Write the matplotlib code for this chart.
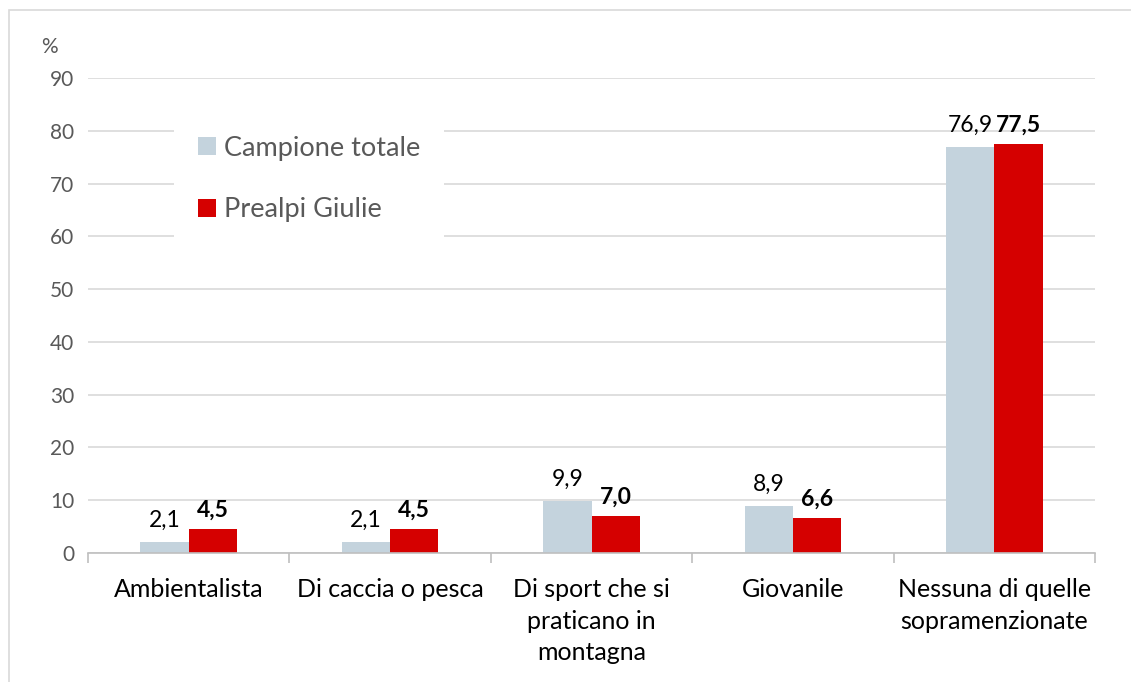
import matplotlib.pyplot as plt
import numpy as np
from matplotlib.patches import Rectangle

plt.rcParams['font.family'] = ['Lato', 'DejaVu Sans']

categories = ['Ambientalista', 'Di caccia o pesca', 'Di sport che si\npraticano in\nmontagna',
              'Giovanile', 'Nessuna di quelle\nsopramenzionate']
campione = [2.1, 2.1, 9.9, 8.9, 76.9]
prealpi = [4.5, 4.5, 7.0, 6.6, 77.5]
series_names = ['Campione totale', 'Prealpi Giulie']

c_grey = '#C4D3DD'
c_red = '#D50000'
txt = '#595959'

fig = plt.figure(figsize=(11.31, 6.82), dpi=100)
ax = fig.add_axes([88 / 1131, 1 - 553 / 682, (1095 - 88) / 1131, (553 - 78) / 682])

# outer chart border
fig.patches.append(Rectangle((9 / 1131, -0.01), 1.1, 1 - 10 / 682 + 0.01, transform=fig.transFigure,
                             fill=False, edgecolor='#D9D9D9', linewidth=1.2))

x = np.arange(len(categories))
width = 0.24
b1 = ax.bar(x - width / 2, campione, width, color=c_grey, label=series_names[0], zorder=2)
b2 = ax.bar(x + width / 2, prealpi, width, color=c_red, label=series_names[1], zorder=2)

for xi, v in zip(x, campione):
    ax.annotate(f'{v:.1f}'.replace('.', ','), (xi - width / 2, v), xytext=(0, 8),
                textcoords='offset points', ha='center', va='bottom', fontsize=16.5, color='black')
for xi, v in zip(x, prealpi):
    ax.annotate(f'{v:.1f}'.replace('.', ','), (xi + width / 2, v), xytext=(0, 6),
                textcoords='offset points', ha='center', va='bottom', fontsize=16.5,
                color='black', fontweight='bold')

ax.set_xlim(-0.5, len(categories) - 0.5)
ax.set_ylim(0, 90)
ax.set_yticks(np.arange(0, 91, 10))
ax.yaxis.grid(True, color='#D9D9D9', linewidth=1.2, zorder=0)
ax.set_axisbelow(True)
for s in ['top', 'right', 'left']:
    ax.spines[s].set_visible(False)
ax.spines['bottom'].set_color('#BFBFBF')
ax.spines['bottom'].set_linewidth(1.2)
ax.tick_params(axis='y', length=0, labelsize=15, labelcolor=txt, pad=10)

# category boundaries as ticks
ax.set_xticks(np.arange(-0.5, len(categories), 1))
ax.set_xticklabels([])
ax.tick_params(axis='x', length=7, color='#BFBFBF', width=1.2)
for xi, lab in zip(x, categories):
    ax.text(xi, -4.8, lab, ha='center', va='top', fontsize=18, color='black', linespacing=1.45)

ax.text(-0.038, 1.045, '%', transform=ax.transAxes, fontsize=15, color=txt, ha='center', va='bottom')

leg = ax.legend(loc='upper left', bbox_to_anchor=(0.085, 0.93), fontsize=19.5, frameon=True,
                framealpha=1, edgecolor='none', labelcolor=txt, handlelength=0.65, handleheight=0.65,
                handletextpad=0.3, labelspacing=1.35, borderpad=0.9, borderaxespad=0)

fig.savefig('out.png', dpi=100)
